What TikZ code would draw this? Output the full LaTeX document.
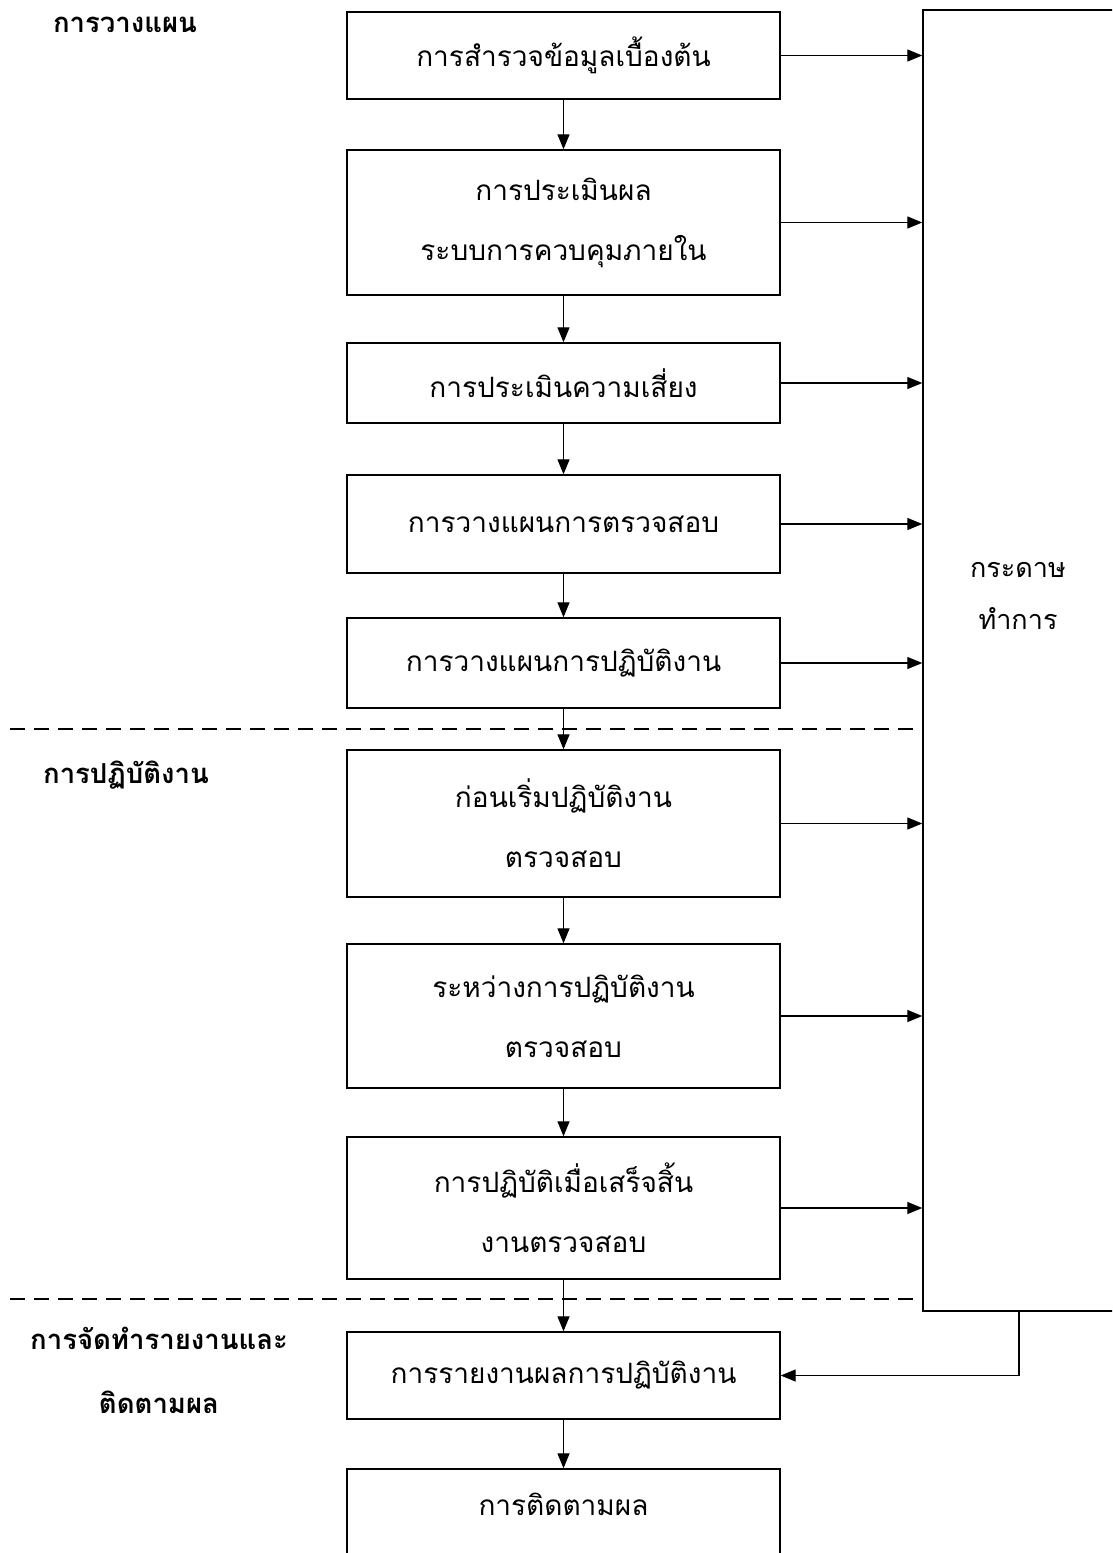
\documentclass[tikz,border=0pt]{standalone}
\usepackage{fontspec}
\newfontfamily\thaifont[Script=Thai]{Loma}
\usetikzlibrary{arrows.meta,positioning}

\tikzset{
  stage/.style={draw, line width=1.4pt, minimum width=433pt, align=center, inner sep=0pt,
    font=\thaifont\fontsize{28}{60}\selectfont},
  phase/.style={align=center, font=\thaifont\bfseries\fontsize{27.5}{64}\selectfont},
  flow/.style={-{Triangle[length=15pt,width=12pt]}, line width=1.3pt},
  split/.style={dash pattern=on 15pt off 9pt, line width=1.3pt}
}

\begin{document}
\begin{tikzpicture}[x=1pt,y=-1pt]
      \useasboundingbox (0,0) rectangle (1112,1553);
      \clip (0,0) rectangle (1112,1553);

      % phase headings
      \node[phase] (plan) at (125,25) {การวางแผน};
      \node[phase] (work) at (126,775) {การปฏิบัติงาน};
      \node[phase] (follow) at (159,1370) {การจัดทำรายงานและ\\ติดตามผล};

      % stages
      \node[stage, minimum height=87pt] (survey) at (563.5,55.5) {การสำรวจข้อมูลเบื้องต้น};
      \node[stage, minimum height=145pt] (control) at (563.5,222.5) {การประเมินผล\\ระบบการควบคุมภายใน};
      \node[stage, minimum height=80pt] (risk) at (563.5,383) {การประเมินความเสี่ยง};
      \node[stage, minimum height=98pt] (audit) at (563.5,524) {การวางแผนการตรวจสอบ};
      \node[stage, minimum height=90pt] (task) at (563.5,663) {การวางแผนการปฏิบัติงาน};
      \node[stage, minimum height=147pt] (before) at (563.5,823.5) {ก่อนเริ่มปฏิบัติงาน\\ตรวจสอบ};
      \node[stage, minimum height=144pt] (during) at (563.5,1016) {ระหว่างการปฏิบัติงาน\\ตรวจสอบ};
      \node[stage, minimum height=142pt] (after) at (563.5,1208) {การปฏิบัติเมื่อเสร็จสิ้น\\งานตรวจสอบ};
      \node[stage, minimum height=87pt] (report) at (563.5,1375.5) {การรายงานผลการปฏิบัติงาน};
      \node[stage, minimum height=111pt, text depth=40pt] (track) at (563.5,1524.5) {การติดตามผล};

      % working papers
      \node[draw, line width=1.4pt, minimum width=192pt, minimum height=1301pt] (paper) at (1019,660.5) {};
      \node[align=center, font=\thaifont\fontsize{27}{52}\selectfont] (paperlabel) at (1018,596) {กระดาษ\\ทำการ};

      % phase borders
      \coordinate (cutA) at (10,729);
      \coordinate (cutB) at (10,1299);
      \draw[split] (cutA) -- ([xshift=-5pt]cutA -| paper.west);
      \draw[split] (cutB) -- ([xshift=-5pt]cutB -| paper.west);

      % flow down
      \foreach \a/\b in {survey/control, control/risk, risk/audit, audit/task, task/before,
                         before/during, during/after, after/report, report/track}
        \draw[flow] (\a.south) -- (\b.north);

      % to working papers
      \foreach \s in {survey, control, risk, audit, task, before, during, after}
        \draw[flow] (\s.east) -- (\s.east -| paper.west);

      % back to report
      \draw[flow] (paper.south) |- (report.east);
    \end{tikzpicture}
\end{document}
